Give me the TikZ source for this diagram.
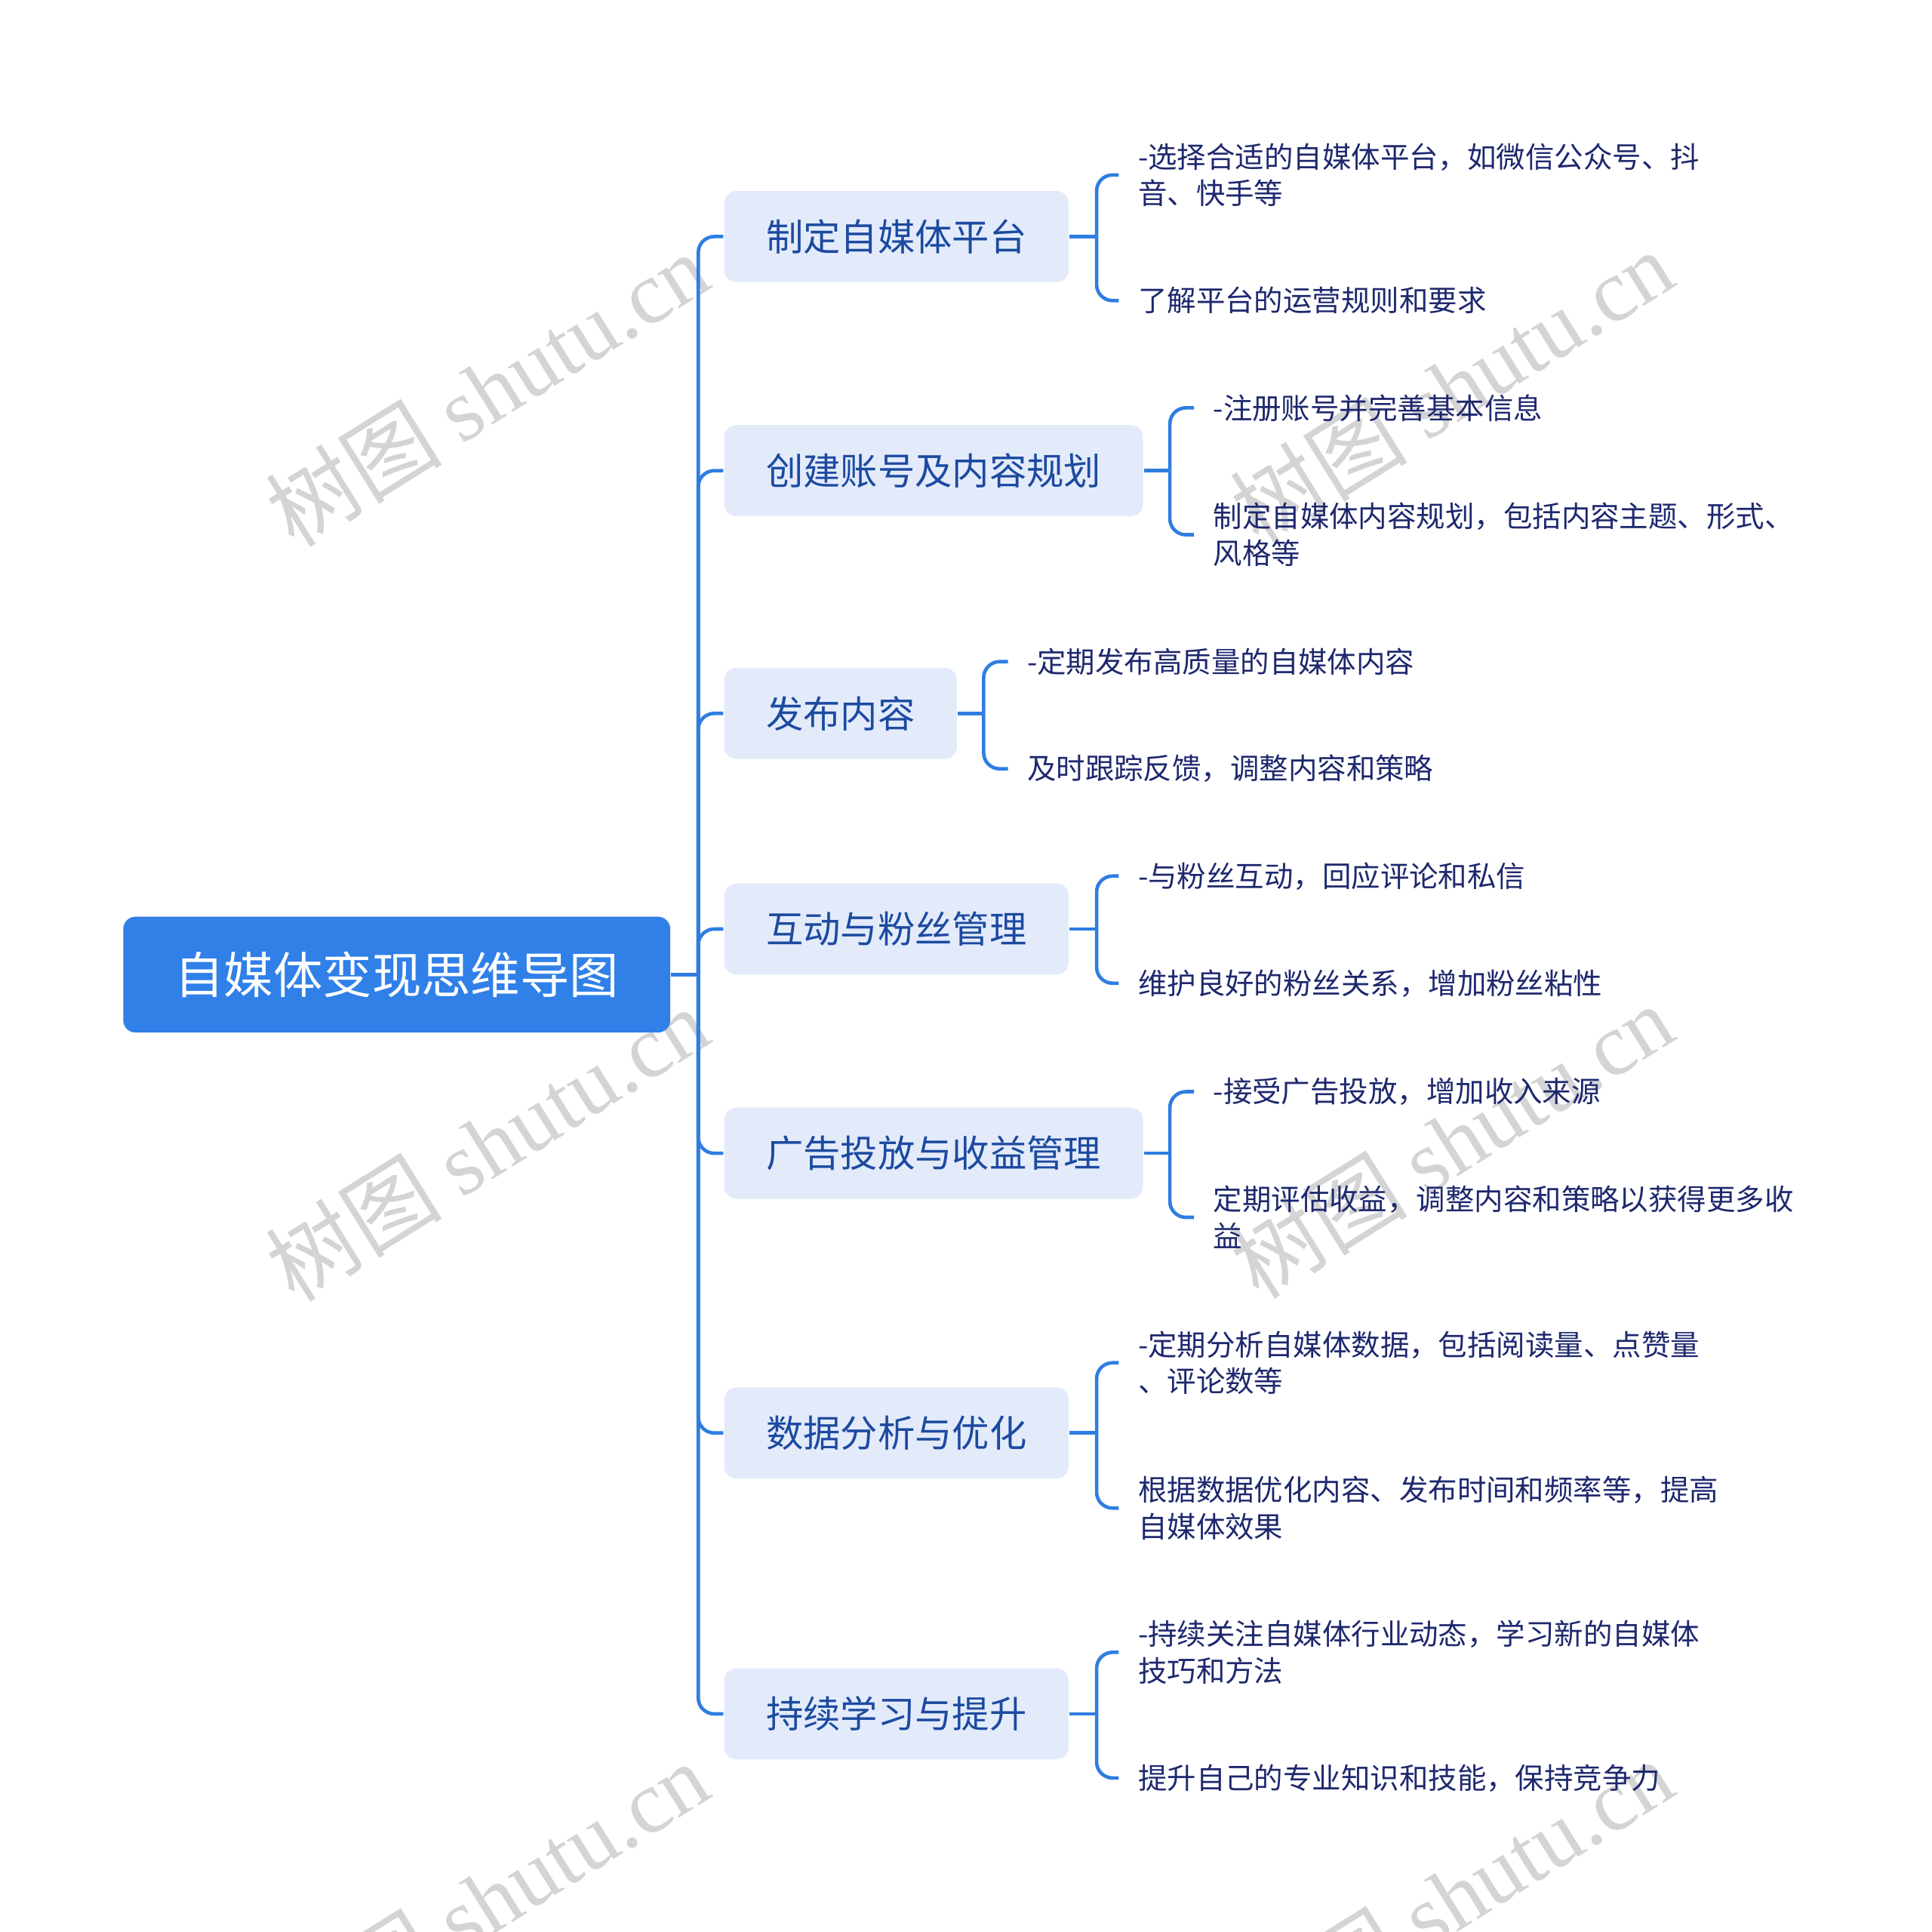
\documentclass[tikz,border=0pt]{standalone}
\usepackage{fontspec}
\setmainfont{Noto Sans CJK SC}
\newfontfamily\wmserif{Liberation Serif}
\definecolor{rootblue}{RGB}{48,128,232}
\definecolor{branchfill}{RGB}{227,235,251}
\definecolor{branchtext}{RGB}{28,74,160}
\definecolor{leafnavy}{RGB}{30,40,110}
\definecolor{lineblue}{RGB}{47,125,225}

\begin{document}
\begin{tikzpicture}[topicbox/.style={fill=rootblue,text=white,rounded corners=.1cm,minimum width=4.44cm,minimum height=.94cm,inner sep=0pt,font=\fontsize{11.4}{13}\selectfont},branchbox/.style={fill=branchfill,text=branchtext,rounded corners=.1cm,anchor=west,inner xsep=.34cm,inner ysep=0pt,minimum height=.74cm,font=\fontsize{8.6}{10}\selectfont},leaftext/.style={anchor=west,align=left,text=leafnavy,inner xsep=.15cm,inner ysep=1pt,font=\fontsize{6.7}{8.5}\selectfont},link/.style={draw=lineblue,line width=.8pt,rounded corners=.13cm},wmark/.style={text=black!17,rotate=32,inner sep=0pt,font=\fontsize{20.5}{22}\selectfont}]
\useasboundingbox[fill=white] (0,0) rectangle (15.68,15.68);
\begin{scope}
\clip (0,0) rectangle (15.68,15.68);
\node[wmark] (wm1) at (3.95,12.52) {树图 {\wmserif shutu.cn}};
\node[wmark] (wm2) at (11.78,12.54) {树图 {\wmserif shutu.cn}};
\node[wmark] (wm3) at (3.95,6.40) {树图 {\wmserif shutu.cn}};
\node[wmark] (wm4) at (11.78,6.42) {树图 {\wmserif shutu.cn}};
\node[wmark] (wm5) at (3.95,0.27) {树图 {\wmserif shutu.cn}};
\node[wmark] (wm6) at (11.78,0.29) {树图 {\wmserif shutu.cn}};
\end{scope}
\node[topicbox] (root) at (3.22,7.77) {自媒体变现思维导图};
\node[branchbox] (b1) at (5.87,13.76) {制定自媒体平台};
\node[branchbox] (b2) at (5.87,11.86) {创建账号及内容规划};
\node[branchbox] (b3) at (5.87,9.89) {发布内容};
\node[branchbox] (b4) at (5.87,8.14) {互动与粉丝管理};
\node[branchbox] (b5) at (5.87,6.32) {广告投放与收益管理};
\node[branchbox] (b6) at (5.87,4.05) {数据分析与优化};
\node[branchbox] (b7) at (5.87,1.77) {持续学习与提升};
\draw[link] (root.east) -- ++(.22,0);
\draw[link] ([xshift=.22cm]root.east) |- (b1.west);
\draw[link] ([xshift=.22cm]root.east) |- (b2.west);
\draw[link] ([xshift=.22cm]root.east) |- (b3.west);
\draw[link] ([xshift=.22cm]root.east) |- (b4.west);
\draw[link] ([xshift=.22cm]root.east) |- (b5.west);
\draw[link] ([xshift=.22cm]root.east) |- (b6.west);
\draw[link] ([xshift=.22cm]root.east) |- (b7.west);
\node[leaftext] (l11) at (9.08,14.26) {-选择合适的自媒体平台，如微信公众号、抖\\音、快手等};
\node[leaftext] (l12) at (9.08,13.24) {了解平台的运营规则和要求};
\draw[link] (b1.east) -- ++(.22,0);
\draw[link] ([xshift=.22cm]b1.east) |- (l11.west);
\draw[link] ([xshift=.22cm]b1.east) |- (l12.west);
\node[leaftext] (l21) at (9.69,12.37) {-注册账号并完善基本信息};
\node[leaftext] (l22) at (9.69,11.34) {制定自媒体内容规划，包括内容主题、形式、\\风格等};
\draw[link] (b2.east) -- ++(.21,0);
\draw[link] ([xshift=.21cm]b2.east) |- (l21.west);
\draw[link] ([xshift=.21cm]b2.east) |- (l22.west);
\node[leaftext] (l31) at (8.18,10.31) {-定期发布高质量的自媒体内容};
\node[leaftext] (l32) at (8.18,9.44) {及时跟踪反馈，调整内容和策略};
\draw[link] (b3.east) -- ++(.21,0);
\draw[link] ([xshift=.21cm]b3.east) |- (l31.west);
\draw[link] ([xshift=.21cm]b3.east) |- (l32.west);
\node[leaftext] (l41) at (9.08,8.57) {-与粉丝互动，回应评论和私信};
\node[leaftext] (l42) at (9.08,7.70) {维护良好的粉丝关系，增加粉丝粘性};
\draw[link] (b4.east) -- ++(.22,0);
\draw[link] ([xshift=.22cm]b4.east) |- (l41.west);
\draw[link] ([xshift=.22cm]b4.east) |- (l42.west);
\node[leaftext] (l51) at (9.69,6.82) {-接受广告投放，增加收入来源};
\node[leaftext] (l52) at (9.69,5.80) {定期评估收益，调整内容和策略以获得更多收\\益};
\draw[link] (b5.east) -- ++(.21,0);
\draw[link] ([xshift=.21cm]b5.east) |- (l51.west);
\draw[link] ([xshift=.21cm]b5.east) |- (l52.west);
\node[leaftext] (l61) at (9.08,4.62) {-定期分析自媒体数据，包括阅读量、点赞量\\、评论数等};
\node[leaftext] (l62) at (9.08,3.44) {根据数据优化内容、发布时间和频率等，提高\\自媒体效果};
\draw[link] (b6.east) -- ++(.22,0);
\draw[link] ([xshift=.22cm]b6.east) |- (l61.west);
\draw[link] ([xshift=.22cm]b6.east) |- (l62.west);
\node[leaftext] (l71) at (9.08,2.27) {-持续关注自媒体行业动态，学习新的自媒体\\技巧和方法};
\node[leaftext] (l72) at (9.08,1.25) {提升自己的专业知识和技能，保持竞争力};
\draw[link] (b7.east) -- ++(.22,0);
\draw[link] ([xshift=.22cm]b7.east) |- (l71.west);
\draw[link] ([xshift=.22cm]b7.east) |- (l72.west);
\end{tikzpicture}
\end{document}
